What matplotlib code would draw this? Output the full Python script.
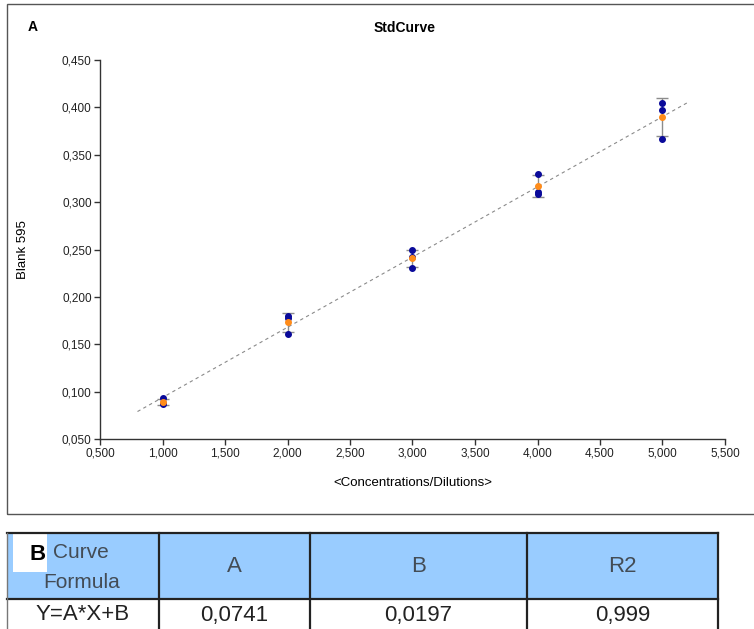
import numpy as np
import matplotlib
matplotlib.use("Agg")
import matplotlib.pyplot as plt
from matplotlib.patches import Rectangle
from matplotlib.lines import Line2D
from matplotlib.ticker import FuncFormatter, MultipleLocator

plt.rcParams['font.family'] = ['Liberation Sans', 'DejaVu Sans']

# данные: концентрации и три повтора измерений
concentrations = [1.0, 2.0, 3.0, 4.0, 5.0]
rep1 = [0.093, 0.180, 0.249, 0.330, 0.405]
rep2 = [0.087, 0.178, 0.231, 0.309, 0.397]
rep3 = [0.088, 0.161, 0.242, 0.311, 0.367]

slope = 0.0741
intercept = 0.0197
fit_range = [0.8, 5.2]

table_header = ["A", "B", "R2"]
table_values = ["0,0741", "0,0197", "0,999"]
formula_text = "Y=A*X+B"

W, H = 754, 629
fig = plt.figure(figsize=(W / 100, H / 100), dpi=100)


def px(x, y):           # пиксели -> координаты фигуры
    return x / W, 1 - y / H


# рамка панели A
fig.patches.append(Rectangle(px(7, 514), 1, (514 - 4) / H, transform=fig.transFigure,
                             fill=False, edgecolor='#555555', lw=1.0))

ax = fig.add_axes([100 / W, 1 - 439 / H, 625 / W, 379 / H])

reps = np.array([rep1, rep2, rep3])
means = reps.mean(axis=0)
sds = reps.std(axis=0, ddof=1)

xs = np.array(fit_range)
ax.plot(xs, slope * xs + intercept, color='#8a8a8a', lw=0.8, ls=(0, (3, 3)), zorder=1)
ax.errorbar(concentrations, means, yerr=sds, fmt='none', ecolor='#8c8c8c',
            elinewidth=1.0, capsize=4, capthick=1.0, zorder=2)
for r in reps:
    ax.plot(concentrations, r, 'o', color='#0a0a9a', ms=4, mec='#0a0a9a', zorder=3)
ax.plot(concentrations, means, 'o', color='#ff8c1a', ms=4, mec='#ff8c1a', zorder=4)

ax.set_xlim(0.5, 5.5)
ax.set_ylim(0.05, 0.45)
ax.xaxis.set_major_locator(MultipleLocator(0.5))
ax.yaxis.set_major_locator(MultipleLocator(0.05))
fmt = FuncFormatter(lambda v, p: f"{v:.3f}".replace('.', ','))
ax.xaxis.set_major_formatter(fmt)
ax.yaxis.set_major_formatter(fmt)
for s in ['top', 'right']:
    ax.spines[s].set_visible(False)
for s in ['left', 'bottom']:
    ax.spines[s].set_color('#333333')
    ax.spines[s].set_linewidth(1.0)
ax.tick_params(direction='out', length=4, width=1, color='#333333',
               labelsize=8.5, labelcolor='#222222', pad=2)
ax.set_xlabel("<Concentrations/Dilutions>", fontsize=9.5, labelpad=13)
ax.set_ylabel("Blank 595", fontsize=9.5, labelpad=24)

fig.text(*px(405, 28), "StdCurve", fontsize=10, fontweight='bold', ha='center', va='center')
fig.text(*px(33, 27), "A", fontsize=10, fontweight='bold', ha='center', va='center')

# таблица B
col_x = [7, 159, 310, 527, 718]
top, mid, bot = 533, 599, 640
fig.patches.append(Rectangle(px(7, mid), (718 - 7) / W, (mid - top) / H,
                             transform=fig.transFigure, facecolor='#99ccff', edgecolor='none'))
fig.patches.append(Rectangle(px(13, 572), (47 - 13) / W, (572 - top) / H,
                             transform=fig.transFigure, facecolor='white', edgecolor='none'))
for yy in [top, mid]:
    fig.lines.append(Line2D([7 / W, 718 / W], [1 - yy / H] * 2, transform=fig.transFigure,
                            color='#222222', lw=1.6))
for i, xx in enumerate(col_x):
    fig.lines.append(Line2D([xx / W] * 2, [1 - top / H, 1 - bot / H], transform=fig.transFigure,
                            color='#777777' if i == 0 else '#222222', lw=1.0 if i == 0 else 1.6))

fig.text(*px(38, 554), "B", fontsize=16, fontweight='bold', ha='center', va='center')
fig.text(*px(53, 552), "Curve", fontsize=15, color='#434c55', ha='left', va='center')
fig.text(*px(43, 583), "Formula", fontsize=15, color='#434c55', ha='left', va='center')
for i, (hdr, val) in enumerate(zip(table_header, table_values)):
    cx = (col_x[i + 1] + col_x[i + 2]) / 2
    fig.text(*px(cx, 567), hdr, fontsize=16, color='#434c55', ha='center', va='center')
    fig.text(*px(cx, 615), val, fontsize=16, color='#222222', ha='center', va='center')
fig.text(*px(83, 615), formula_text, fontsize=16, color='#222222', ha='center', va='center')

fig.savefig("out.png", dpi=100)
